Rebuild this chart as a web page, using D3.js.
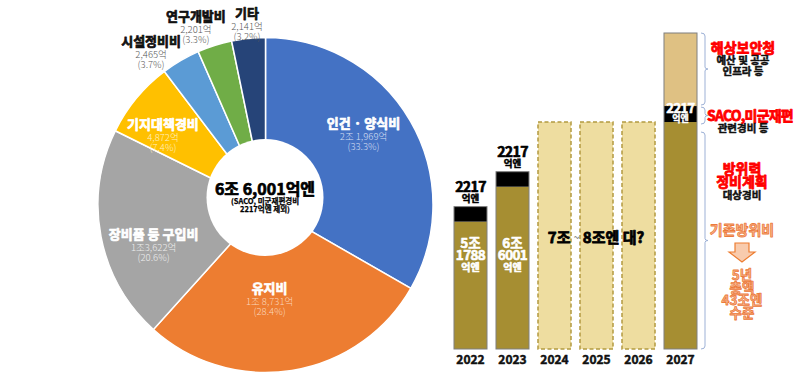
<!DOCTYPE html>
<html><head><meta charset="utf-8">
<script src="https://cdn.jsdelivr.net/npm/d3@7"></script>
<style>
html,body{margin:0;padding:0;background:#fff;}
svg{display:block;}
text,tspan{font-family:"Noto Sans CJK KR","Noto Sans",sans-serif;dominant-baseline:central;}
</style></head>
<body>
<svg id="c" width="800" height="382"></svg>
<script>
// ---------- DATA ----------
const pieCategories = ["인건 · 양식비","유지비","장비품 등 구입비","기지대책경비","시설정비비","연구개발비","기타"];
const pieValues = [21969, 18731, 13622, 4872, 2465, 2201, 2141]; // 억엔
const pieValueLabels = ["2조 1,969억","1조 8,731억","1조3,622억","4,872억","2,465억","2,201억","2,141억"];
const piePctLabels = ["(33.3%)","(28.4%)","(20.6%)","(7.4%)","(3.7%)","(3.3%)","(3.2%)"];
const centerTitle = "6조 6,001억엔";
const centerSub = ["(SACO, 미군재편경비","2217억엔 제외)"];

const years = ["2022","2023","2024","2025","2026","2027"];
// drawn segment heights (조엔 scale)
const baseValues = [5.18, 6.60, 0, 0, 0, 9.23];     // 방위력정비계획 대상경비 (gold)
const sacoValues = [0.61, 0.61, 0, 0, 0, 0.65];     // SACO·미군재편 (black)
const extraValues = [0, 0, 0, 0, 0, 2.97];          // 해상보안청 등 (beige)
const projectedValues = [0, 0, 9.23, 9.23, 9.23, 0]; // 전망 (dashed)
const baseLabels = [["5조","1788","억엔"],["6조","6001","억엔"],null,null,null,null];
const sacoLabels = [["2217","억엔"],["2217","억엔"],null,null,null,["2217","억엔"]];

// ---------- STYLE / LAYOUT ----------
const pieColors = ["#4472C4","#ED7D31","#A5A5A5","#FFC000","#5B9BD5","#70AD47","#264478"];
const pieValueColors = ["#D5DFF2","#FAD6BC","#EDEDED","#FFF0C0","#595959","#595959","#595959"];
const pieInside = [true,true,true,true,false,false,false];
const labelPlace = [[121,-5.8],[94,6.6],[119,-9],[124,-5.4],[191,-6.4],[191,-3.7],[182,0]]; // [radius, angle nudge deg]

const svg = d3.select("#c");

function heavy(sel, color, w){
  return sel.attr("font-weight",700).attr("stroke",color).attr("stroke-width",w||0.7).attr("stroke-linejoin","round");
}
function block(parent, xx, yy, lines){
  const el = parent.append("text").attr("x",xx).attr("y",yy).attr("text-anchor","middle");
  lines.forEach(l=>{
    const ts = el.append("tspan").attr("x",xx).attr("y",yy+l.dy).attr("font-size",l.size)
      .attr("fill",l.fill).text(l.s);
    if(l.ls) ts.attr("letter-spacing",l.ls);
    if(l.weight) ts.attr("font-weight",l.weight);
    if(l.sw){ ts.attr("font-weight",700).attr("stroke",l.stroke||l.fill).attr("stroke-width",l.sw).attr("stroke-linejoin","round"); }
    else ts.attr("stroke","none");
  });
  return el;
}

// ---------- PIE ----------
const cx = 265.5, cy = 205, R = 167.5;
const g = svg.append("g").attr("transform",`translate(${cx},${cy})`);
const pie = d3.pie().sort(null).value(d=>d);
const arcs = pie(pieValues);
const arc = d3.arc().innerRadius(48).outerRadius(R);
g.selectAll("path.slice").data(arcs).join("path")
  .attr("class","slice")
  .attr("d",arc)
  .attr("fill",(d,i)=>pieColors[i])
  .attr("stroke","#fff").attr("stroke-width",1.5);

svg.append("circle").attr("cx",265).attr("cy",197.5).attr("r",58.5).attr("fill","#fff");

arcs.forEach((d,i)=>{
  const mid = (d.startAngle+d.endAngle)/2 + labelPlace[i][1]*Math.PI/180;
  const r = labelPlace[i][0];
  const lx = r*Math.sin(mid), ly = -r*Math.cos(mid);
  const col = pieInside[i]?"#fff":"#111";
  block(g, lx, ly, [
    {s:pieCategories[i], dy:-12, size:13, fill:col, sw:0.7},
    {s:pieValueLabels[i], dy:2, size:9.5, fill:pieValueColors[i], weight:300},
    {s:piePctLabels[i], dy:12, size:9.5, fill:pieValueColors[i], weight:300}
  ]);
});

block(svg, 265, 187.5, [
  {s:centerTitle, dy:0, size:16, fill:"#000", sw:0.7},
  {s:centerSub[0], dy:12.5, size:7.5, fill:"#000", sw:0.25},
  {s:centerSub[1], dy:20.5, size:7.5, fill:"#000", sw:0.25}
]);

// ---------- BARS ----------
const x = d3.scaleBand().domain(years).range([449.5, 701.5]).paddingInner(0.214).paddingOuter(0.107);
const y = d3.scaleLinear().domain([0, 12.85]).range([349, 33]);
const bw = x.bandwidth();
const gold = "#A68E32", beige = "#DFC183", dashFill = "#EEDDA0", dashStroke = "#B39A40";

years.forEach((yr,i)=>{
  const x0 = x(yr);
  if(projectedValues[i]>0){
    svg.append("rect").attr("x",x0).attr("y",y(projectedValues[i])).attr("width",bw)
      .attr("height",y(0)-y(projectedValues[i]))
      .attr("fill",dashFill).attr("stroke",dashStroke).attr("stroke-width",1.5).attr("stroke-dasharray","4,2.5");
    return;
  }
  let acc = 0;
  [[baseValues[i],gold],[sacoValues[i],"#000"],[extraValues[i],beige]].forEach(([v,c])=>{
    if(v<=0) return;
    svg.append("rect").attr("x",x0).attr("y",y(acc+v)).attr("width",bw).attr("height",y(acc)-y(acc+v))
      .attr("fill",c);
    acc += v;
  });
  svg.append("rect").attr("x",x0).attr("y",y(acc)).attr("width",bw).attr("height",y(0)-y(acc))
    .attr("fill","none").attr("stroke","#7F7F7F").attr("stroke-width",1);
});

const innerTop = y(baseValues[0]) + 20;
years.forEach((yr,i)=>{
  const cxb = x(yr)+bw/2;
  if(baseLabels[i]){
    block(svg, cxb, innerTop, baseLabels[i].map((s,k)=>({
      s, dy:k===2?24.5:k*12.5, size:k===2?10:13.5, fill:"#fff", sw:0.6, ls:k===1?"-0.6":null
    })));
  }
  if(sacoLabels[i]){
    const top = y(baseValues[i]+sacoValues[i]);
    if(i<5){
      block(svg, cxb, top-20.5, [
        {s:sacoLabels[i][0], dy:0, size:14, fill:"#000", sw:0.7, ls:"-0.6"},
        {s:sacoLabels[i][1], dy:12, size:9.5, fill:"#000", sw:0.5}
      ]);
    } else {
      block(svg, cxb, top+0.5, [
        {s:sacoLabels[i][0], dy:0, size:13, fill:"#fff", sw:0.6, ls:"-0.6"},
        {s:sacoLabels[i][1], dy:11, size:9, fill:"#fff", sw:0.4}
      ]);
    }
  }
});

const pt = svg.append("text").attr("x",596).attr("y",236).attr("text-anchor","middle")
  .attr("font-size",15).attr("fill","#000");
heavy(pt,"#000",0.8);
pt.append("tspan").text("7조 ");
pt.append("tspan").attr("font-size",10).attr("fill","#666").attr("stroke","none").attr("font-weight",400).text("~");
pt.append("tspan").text(" 8조엔 대?");

years.forEach(yr=>{
  block(svg, x(yr)+bw/2, 358, [{s:yr, dy:0, size:12, fill:"#111", sw:0.5}]);
});

function brace(xb, tp, b){
  const m = (tp+b)/2;
  return `M${xb-4},${tp} Q${xb},${tp} ${xb},${tp+3} L${xb},${m-2} Q${xb},${m} ${xb+3},${m} Q${xb},${m} ${xb},${m+2} L${xb},${b-3} Q${xb},${b} ${xb-4},${b}`;
}
const x27 = x("2027")+bw;
[[y(12.85),y(9.88)-1],[y(9.88)+1,y(9.23)+2],[y(9.23)+10,y(0)]].forEach(([tp,b])=>{
  svg.append("path").attr("d",brace(x27+8,tp,b)).attr("fill","none").attr("stroke","#9DB1D6").attr("stroke-width",1);
});

const red = "#FF0000", dark = "#111";
const orangeFill = "#F7B68C", orangeStroke = "#EC7A3C";
block(svg, 743, 46.5, [
  {s:"해상보안청", dy:0, size:14, fill:red, sw:0.8},
  {s:"예산 및 공공", dy:12, size:10.5, fill:dark, sw:0.5},
  {s:"인프라 등", dy:23, size:10.5, fill:dark, sw:0.5}
]);
block(svg, 750, 114.5, [
  {s:"SACO,미군재편", dy:0, size:14, fill:red, sw:0.8, ls:"-0.8"},
  {s:"관련경비 등", dy:12.5, size:10.5, fill:dark, sw:0.5}
]).select("tspan:last-child").attr("x",743);
block(svg, 742, 168, [
  {s:"방위력", dy:0, size:14, fill:red, sw:0.8},
  {s:"정비계획", dy:13, size:14, fill:red, sw:0.8},
  {s:"대상경비", dy:25.5, size:10.5, fill:dark, sw:0.5}
]);
block(svg, 742, 229, [{s:"기존방위비", dy:0, size:14, fill:orangeFill, stroke:orangeStroke, sw:0.8}]);
svg.append("path")
  .attr("d","M735,243 L749,243 L749,252 L755,252 L742,262 L729,252 L735,252 Z")
  .attr("fill","#F8CBAD").attr("stroke","#ED7D31").attr("stroke-width",1.2);
block(svg, 742, 274, ["5년","총액","43조엔","수준"].map((s,k)=>({
  s, dy:k*12.7, size:13.5, fill:orangeFill, stroke:orangeStroke, sw:0.8
})));
</script>
</body></html>
